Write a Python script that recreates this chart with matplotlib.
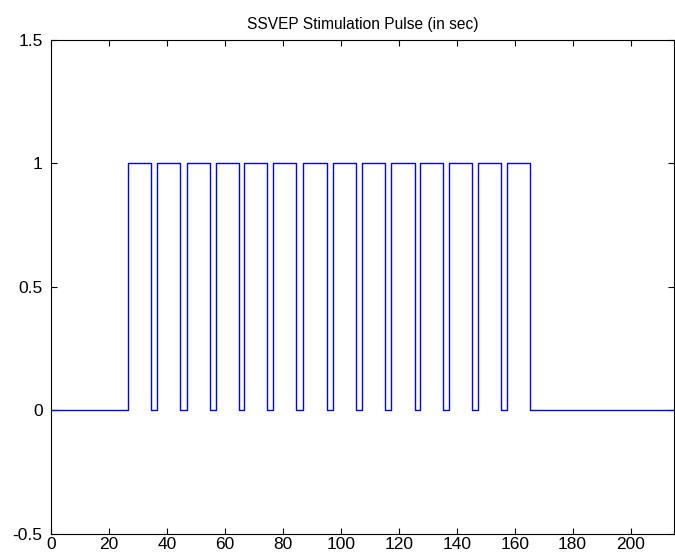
import numpy as np
import matplotlib
matplotlib.use("Agg")
import matplotlib.pyplot as plt

# Pulse on/off edge times (s)
rise_times = [26.7, 36.7, 46.8, 56.8, 66.7, 76.7, 86.8, 97.3, 107.4, 117.4, 127.5, 137.4, 147.4, 157.4]
fall_times = [34.6, 44.6, 54.7, 64.8, 74.7, 84.7, 95.3, 105.4, 115.4, 125.5, 135.4, 145.4, 155.4, 165.4]
t_start, t_end = 0, 215
low_level, high_level = 0, 1

x_ticks = list(range(0, 201, 20))
y_ticks = [-0.5, 0, 0.5, 1, 1.5]
y_tick_labels = ["-0.5", "0", "0.5", "1", "1.5"]

# Build the square-wave trace from the edge times
xs = [t_start]
ys = [low_level]
for r, f in zip(rise_times, fall_times):
    xs += [r, r, f, f]
    ys += [low_level, high_level, high_level, low_level]
xs.append(t_end)
ys.append(low_level)

plt.rcParams['font.family'] = ['Liberation Sans', 'DejaVu Sans']

fig = plt.figure(figsize=(6.75, 5.6), dpi=100)
ax = fig.add_axes([0.0756, 0.0464, 0.9229, 0.8824])
ax.plot(xs, ys, color=(0, 0, 1), linewidth=1.0)

ax.set_xlim(t_start, t_end)
ax.set_ylim(-0.5, 1.5)
ax.set_xticks(x_ticks)
ax.set_yticks(y_ticks)
ax.set_yticklabels(y_tick_labels)
ax.tick_params(direction='in', length=4, width=0.8, top=True, right=True,
               labelsize=12.5)
ax.tick_params(axis='x', pad=2)
ax.tick_params(axis='y', pad=6)
for s in ax.spines.values():
    s.set_linewidth(0.8)
ax.set_title("SSVEP Stimulation Pulse (in sec)", fontsize=11.2, pad=8)

fig.savefig("out.png", dpi=100)
